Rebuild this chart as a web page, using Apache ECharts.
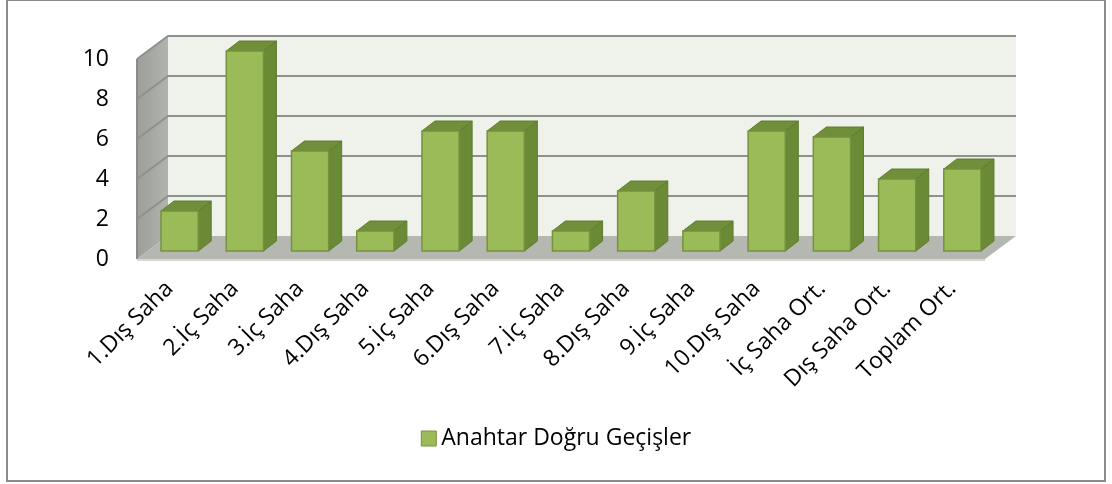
<!DOCTYPE html>
<html>
<head>
<meta charset="utf-8">
<script src="https://cdn.jsdelivr.net/npm/echarts@6/dist/echarts.min.js"></script>
<style>
html,body{margin:0;padding:0;background:#fff;}
#chart{width:1112px;height:484px;}
</style>
</head>
<body>
<div id="chart"></div>
<script>
const categories = ['1.Dış Saha','2.İç Saha','3.İç Saha','4.Dış Saha','5.İç Saha','6.Dış Saha','7.İç Saha','8.Dış Saha','9.İç Saha','10.Dış Saha','İç Saha Ort.','Dış Saha Ort.','Toplam Ort.'];
const values = [2, 10, 5, 1, 6, 6, 1, 3, 1, 6, 5.7, 3.6, 4.1];
const seriesName = 'Anahtar Doğru Geçişler';
const yTicks = [0, 2, 4, 6, 8, 10];

const FONT = 'Open Sans';
// 3D projection offsets (pixels)
const DEPTH = [31, -23];   // front plane -> back wall
const BAR_OFF = [10, -8];  // front plane -> bar front face
const BAR_SIDE = [13, -10];

const chart = echarts.init(document.getElementById('chart'), null, {renderer: 'canvas'});

function bgRender(params, api) {
  const cs = params.coordSys;
  const x0 = cs.x, x1 = cs.x + cs.width;
  const p0 = api.coord([0, 0]);
  const yb = p0[1];
  const dx = DEPTH[0], dy = DEPTH[1];
  const top10 = api.coord([0, yTicks[yTicks.length - 1]])[1];
  const children = [];
  children.push({type: 'polygon', shape: {points: [[x0+dx, top10+dy], [x1+dx, top10+dy], [x1+dx, yb+dy], [x0+dx, yb+dy]]},
    style: {fill: '#eff1eb'}});
  children.push({type: 'polygon', shape: {points: [[x0, top10], [x0+dx, top10+dy], [x0+dx, yb+dy], [x0, yb]]},
    style: {fill: new echarts.graphic.LinearGradient(0, 0, 1, 0, [{offset: 0, color: '#9c9e9a'}, {offset: 1, color: '#b1b3ae'}])}});
  children.push({type: 'polygon', shape: {points: [[x0, yb], [x1, yb], [x1+dx, yb+dy], [x0+dx, yb+dy]]},
    style: {fill: '#b5b7b1'}});
  children.push({type: 'line', shape: {x1: x0, y1: yb+1, x2: x1, y2: yb+1}, style: {stroke: '#d6d7d3', lineWidth: 2}});
  yTicks.forEach(function (t) {
    if (t === 0) return;
    const y = api.coord([0, t])[1];
    children.push({type: 'polyline', shape: {points: [[x0, y], [x0+dx, y+dy], [x1+dx, y+dy]]},
      style: {stroke: '#8f918d', lineWidth: 2, fill: null}});
  });
  children.push({type: 'line', shape: {x1: x0, y1: top10, x2: x0, y2: yb}, style: {stroke: '#8a8c88', lineWidth: 2}});
  return {type: 'group', children: children, silent: true};
}

function barRender(params, api) {
  const idx = api.value(0), v = api.value(1);
  const base = api.coord([idx, 0]);
  const top = api.coord([idx, v]);
  const w = api.size([1, 0])[0] * 0.57;
  const cx = base[0] + BAR_OFF[0];
  const yb = base[1] + BAR_OFF[1];
  const yt = top[1] + BAR_OFF[1];
  const l = cx - w / 2, r = cx + w / 2;
  const sx = BAR_SIDE[0], sy = BAR_SIDE[1];
  return {type: 'group', children: [
    {type: 'polygon', shape: {points: [[r, yb], [r+sx, yb+sy], [r+sx, yt+sy], [r, yt]]},
      style: {fill: '#6a8a36', stroke: '#5f7c30', lineWidth: 1}},
    {type: 'polygon', shape: {points: [[l, yt], [r, yt], [r+sx, yt+sy], [l+sx, yt+sy]]},
      style: {fill: '#718f3b', stroke: '#5f7c30', lineWidth: 1}},
    {type: 'polygon', shape: {points: [[l, yb], [r, yb], [r, yt], [l, yt]]},
      style: {fill: '#9bbb59', stroke: '#76923c', lineWidth: 1.5}}
  ]};
}

const option = {
  animation: false,
  backgroundColor: '#ffffff',
  textStyle: {fontFamily: FONT},
  graphic: [{type: 'rect', shape: {x: 7, y: 0, width: 1098, height: 481}, style: {fill: null, stroke: '#8c8c8c', lineWidth: 2}, z: 100}],
  grid: {left: 137, right: 127, top: 59, bottom: 225, containLabel: false},
  legend: {
    data: [seriesName], bottom: 29, left: 'center', icon: 'rect', itemWidth: 15, itemHeight: 15, itemGap: 5,
    textStyle: {fontFamily: FONT, fontSize: 23, color: '#000'},
    itemStyle: {color: '#9bbb59', borderColor: '#76923c', borderWidth: 1}
  },
  xAxis: {
    type: 'category', data: categories,
    axisLine: {show: false}, axisTick: {show: false},
    axisLabel: {rotate: 45, margin: 26, fontFamily: FONT, fontSize: 23, color: '#000', interval: 0}
  },
  yAxis: {
    type: 'value', min: 0, max: 10, interval: 2,
    axisLine: {show: false}, axisTick: {show: false}, splitLine: {show: false},
    axisLabel: {margin: 28, fontFamily: FONT, fontSize: 23, color: '#000'}
  },
  series: [
    {type: 'custom', name: 'bg', data: [[0, 0]], renderItem: bgRender, silent: true, z: 1, legendHoverLink: false},
    {type: 'custom', name: seriesName, data: values.map(function (v, i) { return [i, v]; }), renderItem: barRender, z: 2,
      itemStyle: {color: '#9bbb59', borderColor: '#76923c'}, encode: {x: 0, y: 1}}
  ]
};
chart.setOption(option);
</script>
</body>
</html>
